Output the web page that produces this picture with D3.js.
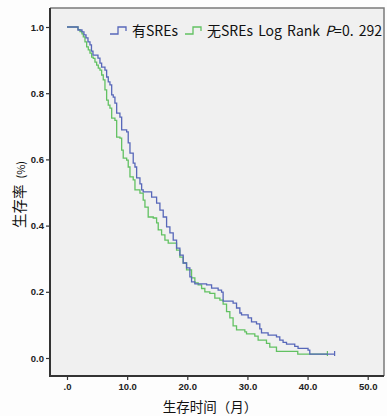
<!DOCTYPE html>
<html lang="zh">
<head>
    <meta charset="UTF-8">
    <title>生存曲线</title>
    <style>
        body {
            margin: 0;
            background-color: #fdfdfd;
            overflow: hidden;
        }
        svg {
            display: block;
        }
        .tick-label {
            font-family: "Liberation Sans", Arial, sans-serif;
            font-size: 9.5px;
            font-weight: bold;
            fill: #222;
        }
        .cjk {
            font-family: "Noto Sans CJK SC", sans-serif;
            fill: #111;
        }
    </style>
</head>
<body>
    <svg id="chart"></svg>

    <script src="https://d3js.org/d3.v7.min.js"></script>
    <script>
        // Kaplan-Meier steps: [time (months), survival after the drop]
        const withSREs = [
            [0, 1.0], [1.83, 0.991], [2.49, 0.985], [2.82, 0.976], [3.16, 0.967], [3.49, 0.955],
            [3.82, 0.946], [4.07, 0.927], [4.32, 0.915], [5.15, 0.906], [5.48, 0.891], [5.76, 0.879],
            [6.31, 0.870], [6.59, 0.849], [6.86, 0.834], [7.14, 0.825], [7.43, 0.795], [7.69, 0.788],
            [7.97, 0.770], [8.26, 0.740], [8.80, 0.728], [9.09, 0.689], [9.92, 0.683], [10.18, 0.650],
            [10.47, 0.619], [11.01, 0.589], [11.30, 0.577], [11.58, 0.544], [12.13, 0.526], [12.41, 0.508],
            [12.67, 0.502], [14.07, 0.486], [14.90, 0.468], [15.45, 0.447], [16.00, 0.426], [16.56, 0.396],
            [17.11, 0.378], [17.66, 0.356], [18.22, 0.332], [18.77, 0.311], [19.32, 0.287], [19.88, 0.272],
            [20.43, 0.245], [20.71, 0.230], [21.26, 0.224], [23.21, 0.221], [24.04, 0.211], [25.13, 0.205],
            [25.70, 0.199], [25.96, 0.172], [27.62, 0.166], [28.19, 0.151], [28.74, 0.136], [29.02, 0.130],
            [30.12, 0.121], [30.68, 0.109], [31.51, 0.103], [32.06, 0.088], [32.34, 0.076], [33.44, 0.069],
            [34.83, 0.064], [35.38, 0.054], [35.93, 0.047], [36.50, 0.042], [37.87, 0.035], [38.42, 0.029],
            [40.08, 0.024], [40.37, 0.012], [44.5, 0.012]
        ];
        const withoutSREs = [
            [0, 1.0], [1.83, 0.992], [2.16, 0.986], [2.49, 0.979], [2.71, 0.970], [2.99, 0.955],
            [3.27, 0.940], [3.54, 0.931], [3.82, 0.921], [4.10, 0.909], [4.37, 0.905], [4.65, 0.894],
            [4.93, 0.885], [5.20, 0.876], [5.48, 0.870], [5.76, 0.855], [6.03, 0.840], [6.31, 0.810],
            [6.59, 0.779], [6.86, 0.764], [7.14, 0.755], [7.43, 0.725], [7.97, 0.718], [8.26, 0.667],
            [8.80, 0.664], [9.09, 0.628], [9.35, 0.604], [9.92, 0.598], [10.18, 0.577], [10.47, 0.547],
            [11.01, 0.538], [11.30, 0.508], [12.13, 0.498], [12.67, 0.477], [12.96, 0.456], [13.50, 0.426],
            [14.34, 0.423], [14.90, 0.408], [15.17, 0.387], [15.73, 0.372], [16.28, 0.356], [16.83, 0.347],
            [18.22, 0.326], [18.77, 0.305], [19.32, 0.287], [19.88, 0.266], [20.71, 0.242], [21.26, 0.227],
            [21.81, 0.221], [22.38, 0.210], [22.92, 0.200], [23.75, 0.195], [24.58, 0.181], [25.42, 0.175],
            [25.96, 0.163], [26.53, 0.140], [27.08, 0.121], [27.62, 0.097], [28.19, 0.085], [29.57, 0.079],
            [29.85, 0.073], [31.23, 0.066], [31.78, 0.054], [33.17, 0.044], [33.72, 0.033], [34.83, 0.020],
            [38.37, 0.012], [43.3, 0.012]
        ];

        const xTicks = [0, 10, 20, 30, 40, 50];
        const xTickLabels = [".0", "10.0", "20.0", "30.0", "40.0", "50.0"];
        const yTicks = [0, 0.2, 0.4, 0.6, 0.8, 1.0];
        const yTickLabels = ["0.0", "0.2", "0.4", "0.6", "0.8", "1.0"];

        const W = 387, H = 416;
        const frame = { left: 50, top: 8, right: 384, bottom: 376 };

        const svg = d3.select("#chart")
            .attr("width", W)
            .attr("height", H);

        // plot background
        svg.append("rect")
            .attr("x", frame.left)
            .attr("y", frame.top)
            .attr("width", frame.right - frame.left)
            .attr("height", frame.bottom - frame.top)
            .attr("fill", "#f0f0f0");

        const x = d3.scaleLinear().domain([0, 50]).range([67, 367.7]);
        const y = d3.scaleLinear().domain([0, 1]).range([358, 27]);

        // top and right border (light)
        svg.append("path")
            .attr("d", `M${frame.left},${frame.top}H${frame.right}V${frame.bottom}`)
            .attr("fill", "none")
            .attr("stroke", "#7a7a7a")
            .attr("stroke-width", 1.5);

        // axes
        const xAxis = svg.append("g")
            .attr("transform", `translate(0,${frame.bottom})`)
            .call(d3.axisBottom(x).tickValues(xTicks).tickSize(4).tickPadding(3)
                .tickFormat((d, i) => xTickLabels[i]));
        xAxis.select(".domain").remove();
        xAxis.append("line")
            .attr("x1", frame.left).attr("x2", frame.right)
            .attr("stroke", "#333").attr("stroke-width", 2);

        const yAxis = svg.append("g")
            .attr("transform", `translate(${frame.left},0)`)
            .call(d3.axisLeft(y).tickValues(yTicks).tickSize(4).tickPadding(2)
                .tickFormat((d, i) => yTickLabels[i]));
        yAxis.select(".domain").remove();
        yAxis.append("line")
            .attr("y1", frame.top).attr("y2", frame.bottom + 1)
            .attr("stroke", "#333").attr("stroke-width", 2);

        svg.selectAll(".tick line").attr("stroke", "#333").attr("stroke-width", 1.2);
        svg.selectAll(".tick text").attr("class", "tick-label");

        // survival curves
        const line = d3.line()
            .x(d => x(d[0]))
            .y(d => y(d[1]))
            .curve(d3.curveStepAfter);

        const series = [
            { data: withSREs, color: "#5767b9" },
            { data: withoutSREs, color: "#62c162" }
        ];

        series.slice().reverse().forEach(s => {
            svg.append("path")
                .datum(s.data)
                .attr("fill", "none")
                .attr("stroke", s.color)
                .attr("stroke-width", 1.3)
                .attr("d", line);

            // censor mark at the end
            const last = s.data[s.data.length - 1];
            svg.append("line")
                .attr("x1", x(last[0])).attr("x2", x(last[0]))
                .attr("y1", y(last[1]) - 3).attr("y2", y(last[1]) + 2)
                .attr("stroke", s.color)
                .attr("stroke-width", 1.2);
        });

        // legend
        const legendItems = [
            { x: 110, color: series[0].color, label: "有SREs" },
            { x: 185, color: series[1].color, label: "无SREs Log Rank " }
        ];
        legendItems.forEach((item, i) => {
            svg.append("path")
                .attr("d", `M${item.x},34H${item.x + 8}V27H${item.x + 16}V31`)
                .attr("fill", "none")
                .attr("stroke", item.color)
                .attr("stroke-width", 1.3);
            const t = svg.append("text")
                .attr("class", "cjk")
                .attr("x", item.x + 22)
                .attr("y", 36)
                .style("font-size", "14px")
                .style("word-spacing", "2px")
                .text(item.label);
            if (i === 1) {
                t.append("tspan").style("font-style", "italic").text("P");
                t.append("tspan").text("=0. 292");
            }
        });

        // axis titles
        svg.append("text")
            .attr("class", "cjk")
            .attr("transform", "rotate(-90)")
            .attr("x", -228)
            .attr("y", 25)
            .style("font-size", "14.5px")
            .text("生存率")
            .append("tspan")
            .attr("dx", 6)
            .style("font-size", "11px")
            .text("(%)");

        svg.append("text")
            .attr("class", "cjk")
            .attr("x", 210)
            .attr("y", 412)
            .attr("text-anchor", "middle")
            .style("font-size", "13.5px")
            .text("生存时间（月）");
    </script>
</body>
</html>
